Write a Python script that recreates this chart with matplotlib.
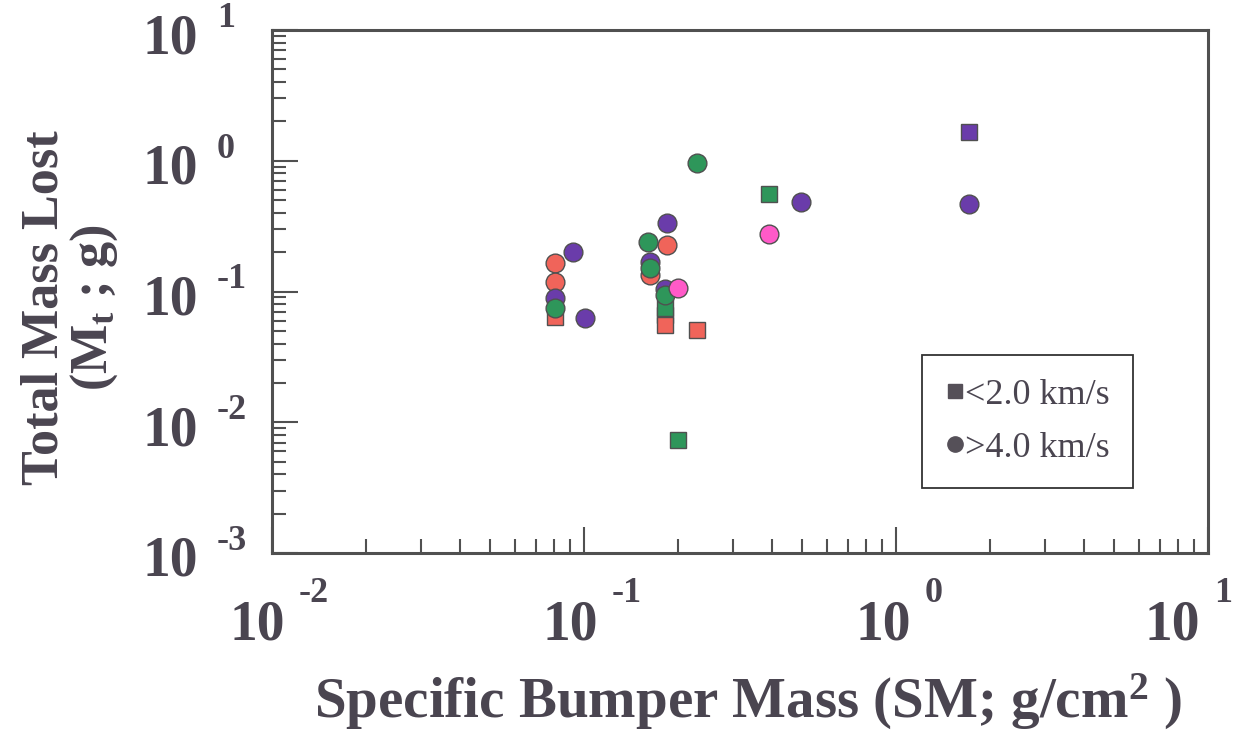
import matplotlib
matplotlib.use("Agg")
import matplotlib.pyplot as plt
from matplotlib.lines import Line2D
from matplotlib.transforms import blended_transform_factory, ScaledTranslation

# data (log-log)
sq_red_x = [0.081, 0.182, 0.182, 0.230]
sq_red_y = [0.064, 0.066, 0.055, 0.051]
sq_green_x = [0.182, 0.200, 0.392]
sq_green_y = [0.075, 0.0073, 0.557]
sq_purple_x = [1.71]
sq_purple_y = [1.66]

ci_red_x = [0.081, 0.081, 0.163, 0.185]
ci_red_y = [0.165, 0.118, 0.134, 0.227]
ci_purple_x = [0.092, 0.081, 0.101, 0.185, 0.163, 0.182, 0.497, 1.71]
ci_purple_y = [0.200, 0.089, 0.063, 0.334, 0.168, 0.104, 0.484, 0.467]
ci_green_x = [0.081, 0.160, 0.163, 0.182, 0.231]
ci_green_y = [0.075, 0.239, 0.151, 0.094, 0.961]
ci_pink_x = [0.200, 0.392]
ci_pink_y = [0.106, 0.275]

decades = [-2, -1, 0, 1]
ydecades = [-3, -2, -1, 0, 1]
legend_labels = ["<2.0 km/s", ">4.0 km/s"]

RED = "#f0645a"
GREEN = "#2e965a"
PURPLE = "#6a3caa"
PINK = "#ff5ac8"
EDGE = "#505050"
INK = "#4a4550"

plt.rcParams["font.family"] = ["Liberation Serif", "DejaVu Serif"]
plt.rcParams["mathtext.fontset"] = "custom"
plt.rcParams["mathtext.rm"] = "Liberation Serif:bold"
plt.rcParams["mathtext.it"] = "Liberation Serif:bold"
plt.rcParams["mathtext.bf"] = "Liberation Serif:bold"

fig = plt.figure(figsize=(12.42, 7.34), dpi=100)
ax = fig.add_axes([272 / 1242, 1 - 553 / 734, 936 / 1242, 523 / 734])
ax.set_xscale("log")
ax.set_yscale("log")
ax.set_xlim(1e-2, 1e1)
ax.set_ylim(1e-3, 1e1)

sq = dict(marker="s", ms=12, ls="none", mec=EDGE, mew=1.0)
ci = dict(marker="o", ms=13.5, ls="none", mec=EDGE, mew=1.0)
ax.plot(sq_red_x, sq_red_y, mfc=RED, **sq)
ax.plot(sq_green_x, sq_green_y, mfc=GREEN, **sq)
ax.plot(sq_purple_x, sq_purple_y, mfc=PURPLE, **sq)
ax.plot(ci_red_x, ci_red_y, mfc=RED, **ci)
ax.plot(ci_purple_x, ci_purple_y, mfc=PURPLE, **ci)
ax.plot(ci_green_x, ci_green_y, mfc=GREEN, **ci)
ax.plot(ci_pink_x, ci_pink_y, mfc=PINK, **ci)

for s in ax.spines.values():
    s.set_linewidth(2.2)
    s.set_color(EDGE)
ax.tick_params(which="both", direction="in", top=False, right=False,
               labelbottom=False, labelleft=False, color=EDGE, width=1.5)
ax.tick_params(which="major", length=19)
ax.tick_params(which="minor", length=10)

# tick labels drawn as "10" plus a raised exponent, like the original
px = fig.dpi_scale_trans
tx = blended_transform_factory(ax.transData, ax.transAxes)
xshift = [0.13, 0.14, 0.15, -0.08]   # the last one sits inside the page edge
for e, dx in zip(decades, xshift):
    ax.text(10.0 ** e, 0, "10", transform=tx + ScaledTranslation(dx, -0.86, px),
            ha="right", va="baseline", fontsize=40, fontweight="bold", color=INK)
    ax.text(10.0 ** e, 0, str(e), transform=tx + ScaledTranslation(dx + 0.14, -0.49, px),
            ha="left", va="baseline", fontsize=26, fontweight="bold", color=INK)
ty = blended_transform_factory(ax.transAxes, ax.transData)
for e in ydecades:
    ax.text(0, 10.0 ** e, "10", transform=ty + ScaledTranslation(-0.74, -0.23, px),
            ha="right", va="baseline", fontsize=40, fontweight="bold", color=INK)
    ax.text(0, 10.0 ** e, str(e), transform=ty + ScaledTranslation(-0.55, 0.03, px),
            ha="left", va="baseline", fontsize=26, fontweight="bold", color=INK)

fig.text(748 / 1242, 1 - 702 / 734, "Specific Bumper Mass (SM; g/cm$^{2}$ )",
         ha="center", va="center", fontsize=41, fontweight="bold", color=INK)
fig.text(70 / 1242, 1 - 308 / 734, "Total Mass Lost\n(M$_{\\mathrm{t}}$ ; g)",
         ha="center", va="center", rotation=90, fontsize=37.5, fontweight="bold",
         color=INK, linespacing=1.0, multialignment="center")

handles = [Line2D([], [], marker="s", ls="none", ms=10, mfc="#555058", mec="#555058"),
           Line2D([], [], marker="o", ls="none", ms=11, mfc="#555058", mec="#555058")]
leg = ax.legend(handles, legend_labels, loc="upper left",
                bbox_to_anchor=(650 / 936, 198 / 523), fancybox=False,
                framealpha=1, edgecolor="#333333", borderpad=0.65,
                handlelength=0.5, handletextpad=0.05, labelspacing=0.55,
                prop={"size": 26}, borderaxespad=0)
leg.get_frame().set_linewidth(1.3)
for t in leg.get_texts():
    t.set_color(INK)

fig.savefig("out.png", dpi=100)
